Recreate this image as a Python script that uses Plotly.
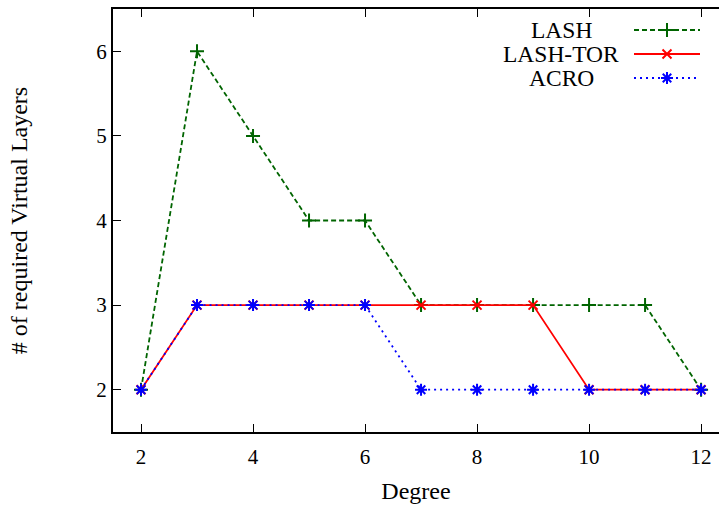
import plotly.graph_objects as go

degree = [2, 3, 4, 5, 6, 7, 8, 9, 10, 11, 12]
lash = [2, 6, 5, 4, 4, 3, 3, 3, 3, 3, 2]
lash_tor = [2, 3, 3, 3, 3, 3, 3, 3, 2, 2, 2]
acro = [2, 3, 3, 3, 3, 2, 2, 2, 2, 2, 2]
series_names = ["LASH", "LASH-TOR", "ACRO"]
x_ticks = [2, 4, 6, 8, 10, 12]
y_ticks = [2, 3, 4, 5, 6]

GREEN = "#006400"
RED = "#ff0000"
BLUE = "#0000ff"
FONT = "Liberation Serif"

styles = [
    dict(color=GREEN, dash="5px,3px", symbol="cross-thin", size=10),
    dict(color=RED, dash="solid", symbol="x-thin", size=9),
    dict(color=BLUE, dash="2px,4px", symbol="asterisk", size=10),
]

fig = go.Figure()
for name, vals, st in zip(series_names, [lash, lash_tor, acro], styles):
    fig.add_trace(go.Scatter(
        x=degree, y=vals, mode="lines+markers", name=name,
        line=dict(color=st["color"], dash=st["dash"], width=1.8),
        marker=dict(symbol=st["symbol"], size=st["size"], color=st["color"],
                    line=dict(color=st["color"], width=2)),
        showlegend=False,
    ))

# custom gnuplot-style legend (text left, sample right)
W, L, T, H = 719, 113, 9, 423
def px(x):
    return (x - L) / (W - L)
def py(y):
    return (T + H - y) / H

rows_y = [30, 54, 78]
for name, st, ry in zip(series_names, styles, rows_y):
    fig.add_annotation(x=px(561), y=py(ry), xref="paper", yref="paper",
                       text=name, showarrow=False, xanchor="center", yanchor="middle",
                       font=dict(family=FONT, size=23.5, color="black"))
    fig.add_shape(type="line", xref="paper", yref="paper",
                  x0=px(634), x1=px(700), y0=py(ry), y1=py(ry),
                  line=dict(color=st["color"], dash=st["dash"], width=1.8))
    fig.add_trace(go.Scatter(
        x=[px(667)], y=[py(ry)], xaxis="x2", yaxis="y2", mode="markers",
        marker=dict(symbol=st["symbol"], size=st["size"], color=st["color"],
                    line=dict(color=st["color"], width=2)),
        showlegend=False, hoverinfo="skip",
    ))

fig.update_layout(
    width=719, height=514,
    margin=dict(l=113, r=0, t=9, b=82),
    paper_bgcolor="white", plot_bgcolor="white",
    font=dict(family=FONT, size=20, color="black"),
    showlegend=False,
    xaxis=dict(range=[1.5, 12.32], tickvals=x_ticks, ticks="inside", ticklen=8,
               tickwidth=1, tickcolor="black", showline=True, linecolor="black",
               linewidth=2, mirror="ticks", showgrid=False, zeroline=False,
               tickfont=dict(size=21), ticklabelstandoff=5,
               title=dict(text="Degree", standoff=14)),
    yaxis=dict(range=[1.5, 6.5], tickvals=y_ticks, ticks="inside", ticklen=8,
               tickwidth=1, tickcolor="black", showline=True, linecolor="black",
               linewidth=2, mirror=False, showgrid=False, zeroline=False,
               tickfont=dict(size=21),
               title=dict(text="# of required Virtual Layers", standoff=62)),
    xaxis2=dict(range=[0, 1], overlaying="x", visible=False, domain=[0, 1]),
    yaxis2=dict(range=[0, 1], overlaying="y", visible=False, domain=[0, 1]),
)

fig.write_html("out.html", config={"displayModeBar": False},
               post_script="document.body.style.margin='0px';")
